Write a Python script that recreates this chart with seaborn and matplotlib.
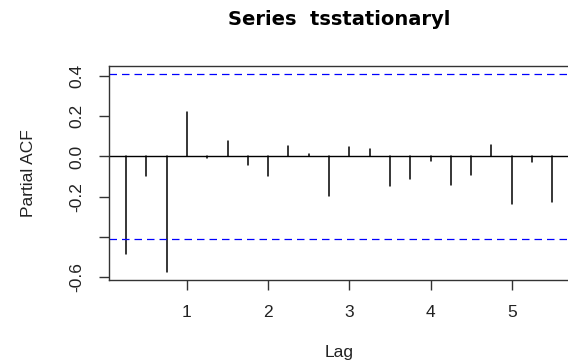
import numpy as np
import pandas as pd
import matplotlib
matplotlib.use("Agg")
import matplotlib.pyplot as plt
import seaborn as sns

lags = [0.25, 0.5, 0.75, 1.0, 1.25, 1.5, 1.75, 2.0, 2.25, 2.5, 2.75,
        3.0, 3.25, 3.5, 3.75, 4.0, 4.25, 4.5, 4.75, 5.0, 5.25, 5.5]
pacf = [-0.482, -0.096, -0.574, 0.221, -0.008, 0.079, -0.040, -0.096, 0.053, 0.010, -0.198,
        0.048, 0.038, -0.149, -0.112, -0.020, -0.142, -0.091, 0.058, -0.236, -0.025, -0.224]
clim = 0.4087
xticks = [1, 2, 3, 4, 5]
yticks = [0.4, 0.2, 0.0, -0.2, -0.4, -0.6]
ytick_labels = ["0.4", "0.2", "0.0", "-0.2", "", "-0.6"]
title = "Series  tsstationaryl"

sns.set_theme(style="ticks")
plt.rcParams['font.family'] = ['Liberation Sans', 'DejaVu Sans']

# long table: each lag is a stem from 0 to its value
rows = []
for l, v in zip(lags, pacf):
    rows.append({"lag": l, "value": 0.0, "unit": l})
    rows.append({"lag": l, "value": v, "unit": l})
df = pd.DataFrame(rows)

fig = plt.figure(figsize=(5.68, 3.61), dpi=100)
ax = fig.add_axes([0.1919, 0.2244, 0.8106, 0.5936])

sns.lineplot(data=df, x="lag", y="value", units="unit", estimator=None,
             color="black", linewidth=1.1, ax=ax, legend=False)
ax.axhline(0, color="black", linewidth=1.0)
ax.axhline(clim, color="blue", linestyle=(0, (6, 4)), linewidth=0.9)
ax.axhline(-clim, color="blue", linestyle=(0, (6, 4)), linewidth=0.9)

ax.set_xlim(0.04, 5.71)
ax.set_ylim(-0.613, 0.4505)
ax.set_xticks(xticks)
ax.set_xticklabels([str(t) for t in xticks])
ax.set_yticks(yticks)
ax.set_yticklabels(ytick_labels, rotation=90, va="center")

for s in ["left", "top", "bottom"]:
    ax.spines[s].set_color("#333333")
    ax.spines[s].set_linewidth(1.0)
ax.spines["right"].set_visible(False)

ax.tick_params(axis="both", length=7, width=1.0, color="#333333",
               labelsize=12.5, labelcolor="#222222")
ax.tick_params(axis="x", pad=11)
ax.tick_params(axis="y", pad=11)

ax.set_xlabel("Lag", fontsize=12.5, color="#222222", labelpad=18)
ax.set_ylabel("Partial ACF", fontsize=12.5, color="#222222", labelpad=24)
fig.text(0.598, 0.945, title, ha="center", va="center",
         fontsize=14, fontweight="bold", color="black",
         family=["DejaVu Sans"])

fig.savefig("out.png", dpi=100)
